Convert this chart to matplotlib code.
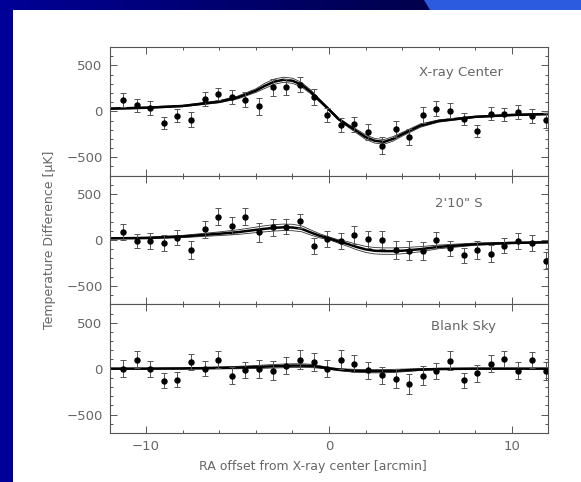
import numpy as np
import matplotlib
matplotlib.use("Agg")
from matplotlib import pyplot as plt
from matplotlib.patches import Rectangle, Polygon
from matplotlib.ticker import MultipleLocator

plt.rcParams['font.family'] = ['DejaVu Sans']

# RA offsets of the scan points [arcmin]
ra_pts = [-11.26, -10.51, -9.78, -9.01, -8.29, -7.54, -6.79, -6.06,
          -5.31, -4.58, -3.81, -3.08, -2.33, -1.58, -0.84, -0.09,
          0.66, 1.39, 2.16, 2.91, 3.65, 4.40, 5.13, 5.87,
          6.59, 7.36, 8.09, 8.84, 9.59, 10.36, 11.08, 11.85]

# temperature differences [uK] and 1-sigma errors
center_dt = [120, 65, 36, -123, -47, -90, 130, 188, 156, 127, 54, 261,
             268, 290, 156, -43, -149, -141, -228, -373, -189, -279, -40, 29,
             7, -83, -214, -25, -33, -11, -51, -98]
center_err = [78, 70, 80, 65, 70, 78, 75, 70, 72, 78, 95, 90, 88, 80, 85, 75,
              75, 80, 88, 96, 85, 90, 85, 85, 80, 70, 70, 72, 70, 75, 75, 80]

south_dt = [90, -11, -11, -36, 25, -109, 116, 253, 155, 253, 83, 138,
            145, 207, -65, 11, -11, 54, 7, 0, -109, -116, -120, 0,
            -91, -167, -109, -149, -62, -11, -33, -225]
south_err = [85, 80, 90, 85, 80, 95, 90, 95, 90, 95, 100, 90, 85, 80, 85, 90,
             85, 100, 95, 95, 95, 100, 100, 90, 80, 85, 95, 95, 85, 85, 85, 95]

blank_dt = [0, 98, -4, -130, -120, 72, 0, 98, -76, -18, -4, -22,
            33, 98, 72, 0, 98, 54, -18, -72, -109, -170, -76, -25,
            87, -127, -51, 54, 105, -22, 94, -25]
blank_err = [90, 95, 90, 80, 85, 90, 85, 95, 90, 85, 95, 100, 90, 100, 95, 90,
             100, 90, 95, 95, 100, 110, 105, 90, 100, 80, 90, 95, 90, 95, 90, 95]

# model profiles (best fit plus envelope)
ra_mod = [-12, -10, -8, -6, -5, -4, -3.5, -3, -2.5, -2, -1.5, -1, -0.5, 0,
          0.5, 1, 1.5, 2, 2.5, 3, 3.5, 4, 5, 6, 8, 10, 12]

center_mod = [29, 39, 58, 105, 150, 225, 278, 322, 343, 333, 290, 212, 115, 20,
              -80, -150, -215, -280, -320, -333, -300, -250, -155, -105, -60, -40, -29]
center_hi = [37, 47, 66, 117, 165, 245, 306, 350, 371, 361, 315, 232, 130, 32,
             -68, -135, -195, -255, -295, -308, -275, -230, -137, -93, -52, -32, -21]
center_lo = [21, 31, 50, 93, 135, 205, 250, 294, 315, 305, 265, 192, 100, 8,
             -92, -165, -235, -305, -345, -358, -325, -270, -173, -117, -68, -48, -37]

south_mod = [18, 22, 38, 68, 85, 110, 122, 132, 138, 136, 122, 82, 45, 18,
             -15, -42, -75, -102, -117, -121, -121, -117, -100, -75, -46, -32, -25]
south_hi = [24, 30, 50, 88, 110, 140, 155, 167, 173, 171, 154, 110, 67, 33,
            3, -17, -45, -69, -82, -86, -86, -84, -72, -55, -34, -24, -19]
south_lo = [12, 14, 26, 48, 60, 80, 89, 97, 103, 101, 90, 54, 23, 3,
            -33, -67, -105, -135, -152, -156, -156, -150, -128, -95, -58, -40, -31]

blank_mod = [0, 0, 2, 8, 12, 18, 22, 26, 30, 33, 33, 30, 18, 3,
             -10, -18, -24, -27, -28, -27, -25, -20, -10, -4, 0, 0, 0]
blank_hi = [4, 5, 8, 18, 25, 34, 40, 45, 50, 53, 53, 48, 32, 12,
            2, -4, -8, -10, -10, -9, -8, -5, 0, 4, 5, 4, 4]
blank_lo = [-4, -5, -4, -2, -1, 2, 4, 7, 10, 13, 13, 12, 4, -6,
            -22, -32, -40, -44, -46, -45, -42, -35, -20, -12, -5, -4, -4]

panels = [
    ('X-ray Center', center_dt, center_err, center_mod, center_hi, center_lo, 0.80, 0.80),
    ('2\'10" S', south_dt, south_err, south_mod, south_hi, south_lo, 0.796, 0.785),
    ('Blank Sky', blank_dt, blank_err, blank_mod, blank_hi, blank_lo, 0.807, 0.83),
]

axcol = '#555555'
txtcol = '#666666'

fig = plt.figure(figsize=(5.81, 4.82), dpi=100, facecolor='white')

# slide frame: blue strip on the left, gradient bar along the top
bg = fig.add_axes([0, 0, 1, 1], zorder=-5)
bg.axis('off')
bg.add_patch(Rectangle((0, 0), 13, 482, color='#000099', lw=0))
grad = np.zeros((1, 256, 3))
grad[0, :, 2] = np.linspace(150, 75, 256) / 255.
bg.imshow(grad, extent=[0, 430, 10, 0], aspect='auto')
bg.add_patch(Polygon([(424, 0), (581, 0), (581, 10), (430, 10)],
                     closed=True, color='#2d5be0', lw=0))
bg.set_xlim(0, 581)
bg.set_ylim(482, 0)

fig.subplots_adjust(left=0.1885, right=0.944, bottom=0.1017, top=0.9025, hspace=0)
axs = fig.subplots(3, 1, sharex=True)

for ax, (name, dt, err, mod, hi, lo, tx, ty) in zip(axs, panels):
    ax.set_facecolor('white')
    ax.plot(ra_mod, hi, color='#333333', lw=0.6)
    ax.plot(ra_mod, lo, color='#333333', lw=0.6)
    ax.plot(ra_mod, mod, color='black', lw=1.8)
    ax.errorbar(ra_pts, dt, yerr=err, fmt='o', color='black', ms=3.6,
                ecolor='#555555', elinewidth=0.7, capsize=2.5, capthick=0.7)
    ax.text(tx, ty, name, transform=ax.transAxes, ha='center', va='center',
            fontsize=9.5, color=txtcol)

    ax.set_ylim(-700, 700)
    ax.set_xlim(-12, 12)
    ax.yaxis.set_major_locator(MultipleLocator(500))
    ax.yaxis.set_minor_locator(MultipleLocator(100))
    ax.xaxis.set_major_locator(MultipleLocator(10))
    ax.xaxis.set_minor_locator(MultipleLocator(2))
    ax.tick_params(which='both', direction='in', top=True, right=True,
                   color=axcol, width=0.7, labelsize=9.5, labelcolor=txtcol, pad=5)
    ax.tick_params(which='major', length=5)
    ax.tick_params(which='minor', length=2.5)
    for sp in ax.spines.values():
        sp.set_color(axcol)
        sp.set_linewidth(0.8)

fig.text(50 / 581, 0.502, 'Temperature Difference [\u03bcK]', rotation=90,
         ha='center', va='center', fontsize=9, color=txtcol)
fig.text(313 / 581, 0.033, 'RA offset from X-ray center [arcmin]',
         ha='center', va='center', fontsize=9, color=txtcol)

fig.savefig('out.png', dpi=100, facecolor='white')
